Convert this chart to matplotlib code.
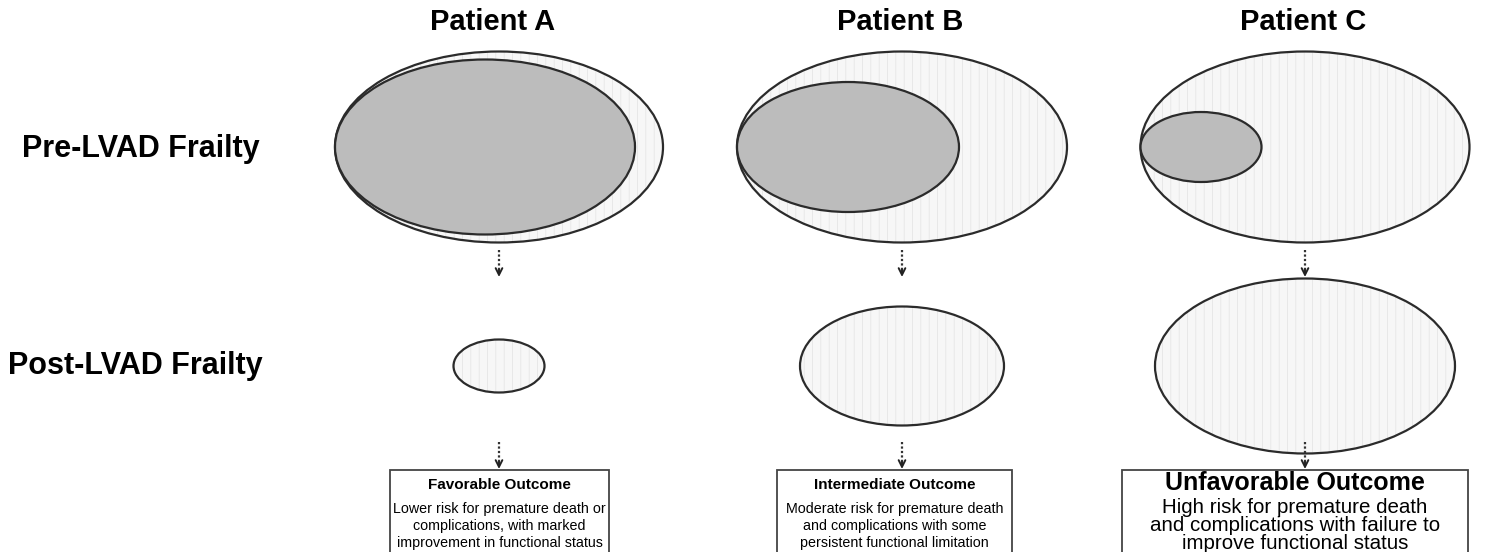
import matplotlib.pyplot as plt
from matplotlib.patches import Ellipse, Rectangle

plt.rcParams['font.family'] = ['Liberation Sans', 'DejaVu Sans']
plt.rcParams['hatch.linewidth'] = 0.5

# Daten (Pixelmasse aus der Vorlage geschaetzt)
patients = ["Patient A", "Patient B", "Patient C"]
row_labels = ["Pre-LVAD Frailty", "Post-LVAD Frailty"]
pre_outer_w = [328, 330, 329]
pre_outer_h = [191, 191, 191]
pre_inner_w = [300, 222, 121]
pre_inner_h = [175, 130, 70]
post_w = [91, 204, 300]
post_h = [53, 119, 175]
outcome_titles = ["Favorable Outcome", "Intermediate Outcome", "Unfavorable Outcome"]
outcome_texts = [
    "Lower risk for premature death or\ncomplications, with marked\nimprovement in functional status",
    "Moderate risk for premature death\nand complications with some\npersistent functional limitation",
    "High risk for premature death\nand complications with failure to\nimprove functional status",
]

# Layout
col_x = [499, 902, 1305]
title_x = [493, 900, 1303]
box_left = [390, 777, 1122]
box_right = [609, 1012, 1468]
box_top = 470
title_y = [485, 485, 483]
body_base = [547, 547, 549]   # Grundlinie der letzten Zeile
title_fs = [11, 11, 18]
body_fs = [10.3, 10.3, 14.8]
body_ls = [1.25, 1.25, 0.92]
pre_y = 147
post_y = 366
edge = "#2b2b2b"
stipple = "#e2e2e2"
inner_fill = "#bcbcbc"

fig = plt.figure(figsize=(14.86, 5.52), dpi=100)
ax = fig.add_axes([0, 0, 1, 1])
ax.set_xlim(0, 1486)
ax.set_ylim(552, 0)
ax.axis("off")


def stippled_ellipse(cx, cy, w, h, z=1):
    # gepunktete Flaeche + Umriss getrennt, damit die Schraffur hell bleibt
    ax.add_patch(Ellipse((cx, cy), w, h, facecolor="#f7f7f7", edgecolor=stipple,
                         hatch="||", linewidth=0, zorder=z))
    ax.add_patch(Ellipse((cx, cy), w, h, facecolor="none", edgecolor=edge,
                         linewidth=1.6, zorder=z + 0.5))


def arrow(x, y0, y1):
    ax.plot([x, x], [y0, y1 - 3], color="#333333", linestyle=(0, (1, 1)), linewidth=1.6, zorder=5)
    ax.annotate("", xy=(x, y1), xytext=(x, y1 - 7),
                arrowprops=dict(arrowstyle="->", color="#222222", lw=1.4,
                                shrinkA=0, shrinkB=0, mutation_scale=12), zorder=5)


for i, name in enumerate(patients):
    cx = col_x[i]
    ax.text(title_x[i], 22, name, ha="center", va="center", fontsize=21, fontweight="bold")

    # vor LVAD: aeussere Ellipse, innere links buendig
    left = cx - pre_outer_w[i] / 2
    stippled_ellipse(cx, pre_y, pre_outer_w[i], pre_outer_h[i])
    ax.add_patch(Ellipse((left + pre_inner_w[i] / 2, pre_y), pre_inner_w[i], pre_inner_h[i],
                         facecolor=inner_fill, edgecolor=edge, linewidth=1.6, zorder=3))

    arrow(cx, 250, 277)

    # nach LVAD
    stippled_ellipse(cx, post_y, post_w[i], post_h[i])

    # Ergebnis-Box
    arrow(cx, 442, box_top - 1)
    ax.add_patch(Rectangle((box_left[i], box_top), box_right[i] - box_left[i], 120,
                           facecolor="white", edgecolor="#444444", linewidth=1.3, zorder=4))
    bx = (box_left[i] + box_right[i]) / 2
    ax.text(bx, title_y[i], outcome_titles[i], ha="center", va="center",
            fontsize=title_fs[i], fontweight="bold", zorder=6)
    ax.text(bx, body_base[i], outcome_texts[i], ha="center", va="baseline",
            multialignment="center", fontsize=body_fs[i], linespacing=body_ls[i], zorder=6)

ax.text(22, pre_y + 2, row_labels[0], ha="left", va="center", fontsize=22, fontweight="bold")
ax.text(8, post_y, row_labels[1], ha="left", va="center", fontsize=22, fontweight="bold")

fig.savefig("out.png", dpi=100)
